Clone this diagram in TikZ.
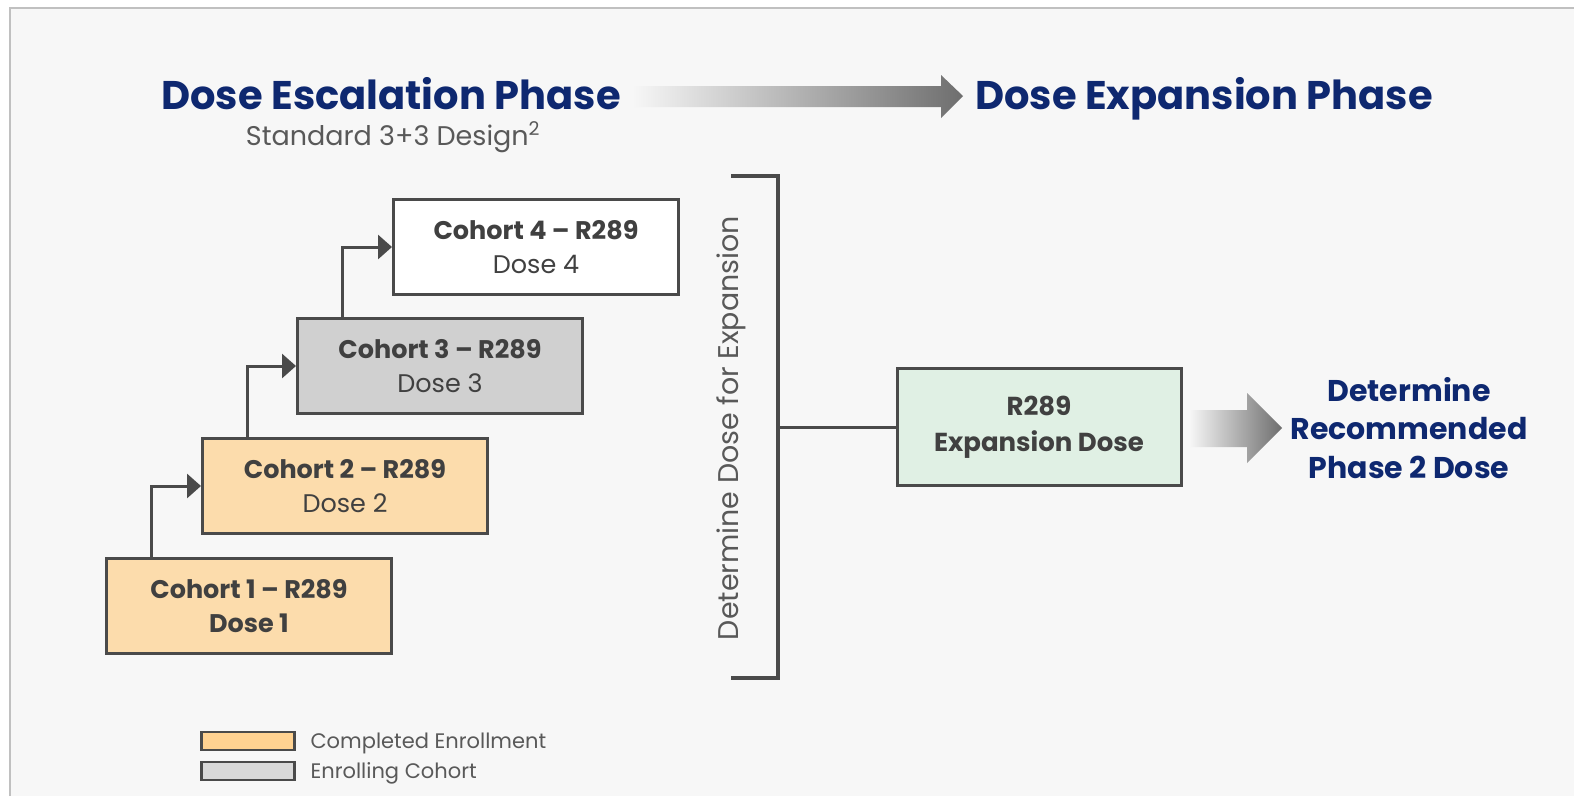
\documentclass[tikz,border=0pt]{standalone}
\usepackage{fontspec}
\setmainfont{Poppins}
\usetikzlibrary{arrows.meta}
\definecolor{navy}{RGB}{14,40,112}
\definecolor{boxline}{RGB}{74,74,74}
\definecolor{boxtext}{RGB}{64,64,64}
\definecolor{softtext}{RGB}{89,89,89}
\definecolor{panel}{RGB}{247,247,247}
\definecolor{panelline}{RGB}{192,192,192}
\definecolor{doneorange}{RGB}{252,220,172}
\definecolor{legendorange}{RGB}{255,210,145}
\definecolor{enrollgray}{RGB}{208,208,208}
\definecolor{legendgray}{RGB}{217,217,217}
\definecolor{expgreen}{RGB}{224,240,228}
\definecolor{arrowdark}{RGB}{110,110,110}

\begin{document}
\begin{tikzpicture}[x=1pt,y=-1pt]
                \tikzset{cohort/.style = {draw=boxline, line width=3pt, minimum width=285pt, minimum height=95pt, inner sep=0pt, align=center, text=boxtext, font=\fontsize{25.5}{34}\selectfont}}
                \tikzset{edge/.style = {-{Triangle[length=14pt,width=24pt]}, draw=boxline, line width=3pt}}
                \tikzset{phase/.style = {anchor=base, text=navy, font=\fontsize{40}{44}\selectfont\bfseries}}
                \tikzset{legendbox/.style = {draw=boxline, line width=2.5pt, minimum width=93pt, minimum height=18pt, inner sep=0pt}}
                \tikzset{legendtext/.style = {anchor=base west, text=softtext, font=\fontsize{21}{22}\selectfont}}
                % panel
                \useasboundingbox (0,0) rectangle (1574,796);
                \fill[white] (0,0) rectangle (1574,796);
                \fill[panel] (10,8) rectangle (1574,796);
                \draw[panelline, line width=2pt] (10,796) -- (10,8) -- (1574,8);

                % headings
                \node[phase] (esc) at (391,109) {Dose Escalation Phase};
                \node[anchor=base, text=softtext, font=\fontsize{27}{30}\selectfont] (design) at (393,145) {Standard 3+3 Design\textsuperscript{2}};
                \node[phase] (exp) at (1204,109) {Dose Expansion Phase};
                \shade[left color=panel, right color=arrowdark] (632,86) -- (941,86) -- (941,75) -- (963,96) -- (941,118) -- (941,107) -- (632,107) -- cycle;

                % cohorts
                \node[cohort, fill=doneorange] (c1) at (249,606) {\textbf{Cohort 1 – R289}\\\textbf{Dose 1}};
                \node[cohort, fill=doneorange] (c2) at (345,486) {\textbf{Cohort 2 – R289}\\Dose 2};
                \node[cohort, fill=enrollgray] (c3) at (440,366) {\textbf{Cohort 3 – R289}\\Dose 3};
                \node[cohort, fill=white] (c4) at (536,247) {\textbf{Cohort 4 – R289}\\Dose 4};

                % bracket
                \node[rotate=90, text=softtext, font=\fontsize{28.5}{30}\selectfont] (det) at (731,428) {Determine Dose for Expansion};
                \coordinate (brktop) at (778,176);
                \coordinate (brkbot) at (778,678);
                \coordinate (brk) at (778,427);
                \node[cohort, fill=expgreen, minimum width=284pt, minimum height=117pt, font=\fontsize{26}{36}\selectfont] (expbox) at (1039,427) {\textbf{R289}\\\textbf{Expansion Dose}};
                \node[text=navy, align=center, font=\fontsize{30}{38.5}\selectfont\bfseries] (rp2d) at (1409,428) {Determine\\Recommended\\Phase 2 Dose};
                \shade[left color=panel, right color=arrowdark] (1189,410) -- (1247,410) -- (1247,393) -- (1282,428) -- (1247,463) -- (1247,447) -- (1189,447) -- cycle;

                % legend
                \node[legendbox, fill=legendorange] (lg1) at (248,741) {};
                \node[legendbox, fill=legendgray] (lg2) at (248,771) {};
                \node[legendtext] (lt1) at (307,748) {Completed Enrollment};
                \node[legendtext] (lt2) at (307,778) {Enrolling Cohort};

                %edges
                \draw[edge] ([xshift=46.5pt]c1.north west) |- (c2.west);
                \draw[edge] ([xshift=46.5pt]c2.north west) |- (c3.west);
                \draw[edge] ([xshift=46.5pt]c3.north west) |- (c4.west);
                \draw[boxline, line width=3.5pt] ([xshift=-47pt]brktop) -- (brktop) -- (brkbot) -- ([xshift=-47pt]brkbot);
                \draw[boxline, line width=3pt] (brk) -- (expbox.west);
            \end{tikzpicture}
\end{document}
